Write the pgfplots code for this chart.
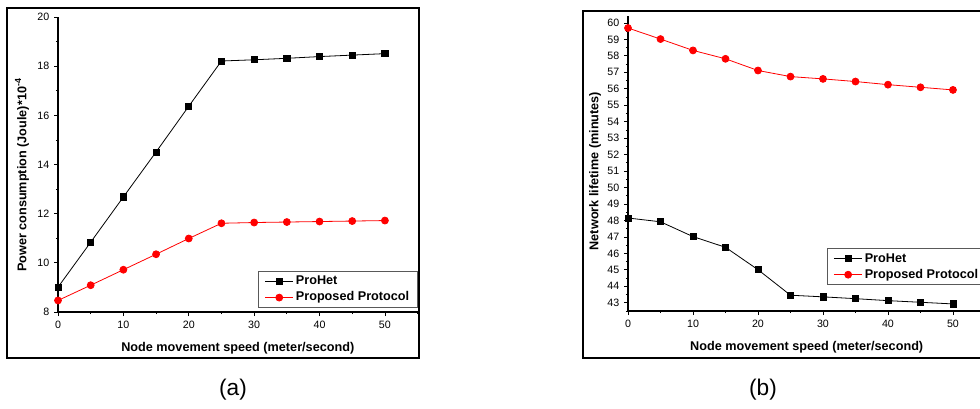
\documentclass[border=0pt]{standalone}
\usepackage{fontspec}
\setmainfont{Liberation Sans}
\usepackage{pgfplots}
\pgfplotsset{compat=1.18}

% Power consumption vs. node speed
\pgfplotstableread{
speed prohet proposed
0   9.01  8.47
5   10.84 9.09
10  12.68 9.72
15  14.51 10.35
20  16.37 10.99
25  18.21 11.61
30  18.26 11.64
35  18.32 11.66
40  18.39 11.68
45  18.45 11.70
50  18.51 11.72
}\powertable

% Network lifetime vs. node speed
\pgfplotstableread{
speed prohet proposed
0   48.15 59.69
5   47.92 59.02
10  47.02 58.33
15  46.37 57.82
20  45.01 57.11
25  43.46 56.74
30  43.36 56.60
35  43.25 56.44
40  43.13 56.25
45  43.03 56.09
50  42.93 55.93
}\lifetable

\pgfplotsset{
  panel/.style={
    scale only axis,
    axis lines*=left,
    axis line style={-, line width=0.9pt},
    every outer x axis line/.append style={-},
    every outer y axis line/.append style={-},
    tick align=outside,
    major tick length=3pt,
    minor tick length=1.6pt,
    tick style={black, line width=0.6pt},
    ticklabel style={font=\fontsize{8}{9}\selectfont},
    /pgf/number format/assume math mode=true,
    label style={font=\bfseries\fontsize{9.5}{11}\selectfont},
    xlabel={Node movement speed (meter/second)},
    xlabel style={at={(axis description cs:0.5,-0.122)}, anchor=center},
    xmin=0, xmax=55,
    xtick={0,10,...,50},
    minor xtick={5,15,...,55},
    clip=false,
    legend cell align=left,
    legend image code/.code={%
      \draw[mark repeat=2,mark phase=2,##1] plot coordinates {(0cm,0cm) (0.375cm,0cm) (0.75cm,0cm)};},
    legend style={
      draw=black!65, line width=0.6pt,
      font=\bfseries\fontsize{9.5}{10}\selectfont,
      inner xsep=4.5pt, inner ysep=1.5pt,
      row sep=0pt,
      nodes={text height=7pt, text depth=2pt, inner sep=1.5pt},
    },
  },
  prohet/.style={black, line width=0.6pt, mark=square*, mark size=2.3pt,
    mark options={solid, fill=black}},
  proposed/.style={red, line width=0.6pt, mark=*, mark size=2.6pt,
    mark options={solid, fill=red}},
}

\begin{document}
\begin{tikzpicture}
\clip (0,0) rectangle (735pt,-306pt);

% panel frames
\draw[line width=1.6pt] (5.25pt,-6pt) rectangle (314.25pt,-268.5pt);
\draw[line width=1.6pt] (437.25pt,-8.25pt) rectangle (760pt,-268.5pt);

% (a) power consumption
\begin{axis}[panel,
  at={(43.5pt,-234pt)}, anchor=south west,
  width=269.7pt, height=221.25pt,
  ymin=8, ymax=20,
  ytick={8,10,...,20},
  minor ytick={9,11,...,19},
  ylabel={Power consumption (Joule)*10\textsuperscript{-4}},
  ylabel style={at={(axis description cs:-0.10,0.464)}, anchor=center},
  legend style={at={(axis description cs:1,0.0136)}, anchor=south east},
]
\addplot[prohet] table[x=speed, y=prohet] {\powertable};
\addplot[proposed] table[x=speed, y=proposed] {\powertable};
\legend{ProHet, Proposed Protocol}
\end{axis}

% (b) network lifetime
\begin{axis}[panel,
  at={(471pt,-233.25pt)}, anchor=south west,
  width=268.1pt, height=221pt,
  ymin=42.5, ymax=60.4,
  ytick={43,44,...,60},
  minor ytick={42.5,43.5,...,60.5},
  ylabel={Network lifetime (minutes)},
  ylabel style={at={(axis description cs:-0.092,0.475)}, anchor=center},
  legend style={at={(axis description cs:0.557,0.088)}, anchor=south west},
]
\addplot[prohet] table[x=speed, y=prohet] {\lifetable};
\addplot[proposed] table[x=speed, y=proposed] {\lifetable};
\legend{ProHet, Proposed Protocol}
\end{axis}

\node[font=\fontsize{17}{20}\selectfont] at (174.75pt,-292.5pt) {(a)};
\node[font=\fontsize{17}{20}\selectfont] at (572.25pt,-292.5pt) {(b)};
\end{tikzpicture}
\end{document}
